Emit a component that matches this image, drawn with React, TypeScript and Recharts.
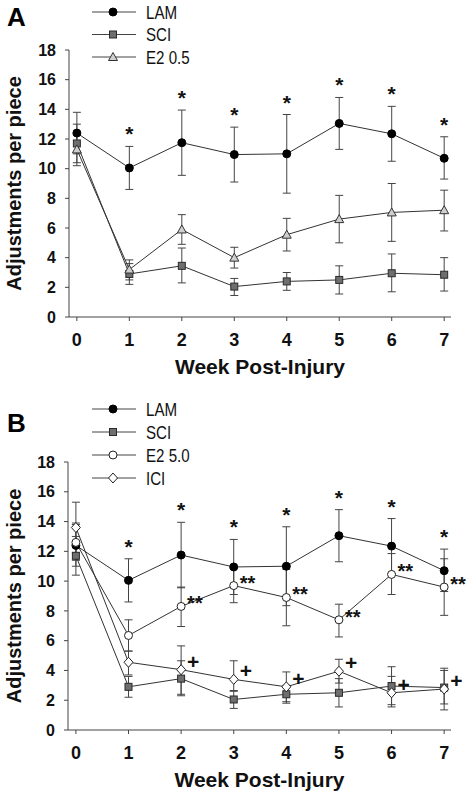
import React from 'react';
import { LineChart, Line, XAxis, YAxis, ErrorBar, LabelList } from 'recharts';

const weeks = [0, 1, 2, 3, 4, 5, 6, 7];
const yTicks = [0, 2, 4, 6, 8, 10, 12, 14, 16, 18];

// LAM (same in both panels)
const lamMean = [12.4, 10.05, 11.75, 10.95, 11.0, 13.05, 12.35, 10.7];
const lamHi = [13.8, 11.5, 13.95, 12.8, 13.65, 14.8, 14.2, 12.15];
const lamLo = [11.0, 8.6, 9.55, 9.1, 8.35, 11.3, 10.5, 9.3];
const lamSig = ['', '*', '*', '*', '*', '*', '*', '*'];

// SCI
const sciMean = [11.7, 2.9, 3.45, 2.05, 2.4, 2.5, 2.95, 2.85];
const sciHi = [13.0, 3.6, 4.65, 2.6, 3.0, 3.45, 4.25, 4.0];
const sciLo = [10.4, 2.2, 2.3, 1.45, 1.8, 1.55, 1.7, 1.75];

// E2 0.5 (panel A)
const e2LowMean = [11.3, 3.2, 5.9, 4.0, 5.55, 6.6, 7.05, 7.2];
const e2LowHi = [12.3, 3.85, 6.9, 4.7, 6.65, 8.2, 9.0, 8.55];
const e2LowLo = [10.2, 2.5, 4.9, 3.3, 4.45, 5.0, 5.1, 5.8];

// E2 5.0 (panel B)
const e2HighMean = [12.6, 6.35, 8.3, 9.7, 8.9, 7.4, 10.45, 9.6];
const e2HighHi = [13.9, 7.4, 9.6, 10.85, 10.8, 8.45, 11.85, 11.5];
const e2HighLo = [11.4, 5.3, 6.95, 8.55, 7.0, 6.25, 9.1, 7.7];
const e2HighSig = ['', '', '**', '**', '**', '**', '**', '**'];

// ICI (panel B)
const iciMean = [13.6, 4.55, 4.05, 3.4, 2.9, 3.95, 2.5, 2.75];
const iciHi = [15.3, 5.3, 5.65, 4.65, 3.9, 4.75, 3.6, 4.15];
const iciLo = [11.9, 3.7, 2.4, 2.65, 1.9, 3.15, 1.55, 1.35];
const iciSig = ['', '', '+', '+', '+', '+', '+', '+'];

const FONT = '"Liberation Sans", Arial, Helvetica, sans-serif';
const LINE = '#333';

type Shape = 'dot' | 'square' | 'triangle' | 'ring' | 'diamond';

interface Series {
  key: string;
  name: string;
  shape: Shape;
  mean: number[];
  hi: number[];
  lo: number[];
  sig?: string[];
}

const seriesA: Series[] = [
  { key: 'lam', name: 'LAM', shape: 'dot', mean: lamMean, hi: lamHi, lo: lamLo, sig: lamSig },
  { key: 'sci', name: 'SCI', shape: 'square', mean: sciMean, hi: sciHi, lo: sciLo },
  { key: 'e2', name: 'E2 0.5', shape: 'triangle', mean: e2LowMean, hi: e2LowHi, lo: e2LowLo },
];

const seriesB: Series[] = [
  { key: 'lam', name: 'LAM', shape: 'dot', mean: lamMean, hi: lamHi, lo: lamLo, sig: lamSig },
  { key: 'sci', name: 'SCI', shape: 'square', mean: sciMean, hi: sciHi, lo: sciLo },
  { key: 'e2', name: 'E2 5.0', shape: 'ring', mean: e2HighMean, hi: e2HighHi, lo: e2HighLo, sig: e2HighSig },
  { key: 'ici', name: 'ICI', shape: 'diamond', mean: iciMean, hi: iciHi, lo: iciLo, sig: iciSig },
];

const buildRows = (series: Series[]) =>
  weeks.map((w, i) => {
    const row: any = { week: w };
    series.forEach((s) => {
      row[s.key] = s.mean[i];
      row[s.key + 'Err'] = [s.mean[i] - s.lo[i], s.hi[i] - s.mean[i]];
      row[s.key + 'Hi'] = s.hi[i];
      if (s.sig) row[s.key + 'Sig'] = s.sig[i];
    });
    return row;
  });

// marker glyphs, used by the plot and the legend
const Marker = ({ shape, cx, cy }: { shape: Shape; cx: number; cy: number }) => {
  switch (shape) {
    case 'dot':
      return <circle cx={cx} cy={cy} r={4} fill="#000" stroke="#000" />;
    case 'square':
      return <rect x={cx - 3.5} y={cy - 3.5} width={7} height={7} fill="#6e6e6e" stroke="#2a2a2a" />;
    case 'triangle':
      return (
        <polygon
          points={`${cx},${cy - 4.5} ${cx + 4.5},${cy + 3.5} ${cx - 4.5},${cy + 3.5}`}
          fill="#cfcfcf"
          stroke="#333"
        />
      );
    case 'ring':
      return <circle cx={cx} cy={cy} r={4} fill="#fff" stroke="#222" />;
    case 'diamond':
      return (
        <polygon
          points={`${cx},${cy - 5} ${cx + 4.5},${cy} ${cx},${cy + 5} ${cx - 4.5},${cy}`}
          fill="#fff"
          stroke="#222"
        />
      );
  }
  return null;
};

const makeDot = (shape: Shape) => (p: any) => (
  <Marker key={`m-${shape}-${p.index}`} shape={shape} cx={p.cx} cy={p.cy} />
);

// star above the upper error bar
const renderStar = (p: any) => {
  if (!p.value) return null;
  return (
    <text key={`s-${p.index}`} x={p.x} y={p.y - 5} textAnchor="middle" fontSize={21} fontWeight="bold" fill="#111">
      {p.value}
    </text>
  );
};

// ** / + placed beside the marker
const renderSide = (p: any) => {
  if (!p.value) return null;
  const plus = p.value === '+';
  return (
    <text
      key={`d-${p.index}`}
      x={p.x + 6}
      y={plus ? p.y - 1 : p.y + 4}
      fontSize={plus ? 21 : 20}
      fontWeight="bold"
      fill="#111"
    >
      {p.value}
    </text>
  );
};

interface PanelProps {
  letter: string;
  series: Series[];
  height: number;
  marginTop: number;
  yWidth: number;
  xHeight: number;
  titleOffset: number;
  legendY: number[];
  letterY: number;
}

const Panel = ({ letter, series, height, marginTop, yWidth, xHeight, titleOffset, legendY, letterY }: PanelProps) => {
  const rows = buildRows(series);
  return (
    <div style={{ position: 'relative', width: 469, height }}>
      <LineChart width={469} height={height} data={rows} margin={{ top: marginTop, right: 18, left: 0, bottom: 0 }}>
        <XAxis
          dataKey="week"
          type="number"
          domain={[-0.15, 7.13]}
          ticks={weeks}
          height={xHeight}
          tickSize={4}
          tickMargin={12}
          axisLine={{ stroke: '#444' }}
          tickLine={{ stroke: '#444' }}
          tick={{ fontSize: 18, fontWeight: 'bold', fill: '#111' }}
          label={{
            value: 'Week Post-Injury',
            position: 'insideBottom',
            offset: titleOffset,
            style: { fontSize: 21, fontWeight: 'bold', fill: '#111' },
          }}
        />
        <YAxis
          type="number"
          domain={[0, 18]}
          ticks={yTicks}
          width={yWidth}
          tickSize={4}
          tickMargin={9}
          axisLine={{ stroke: '#444' }}
          tickLine={{ stroke: '#444' }}
          tick={{ fontSize: 16, fontWeight: 'bold', fill: '#111' }}
          label={{
            value: 'Adjustments per piece',
            angle: -90,
            position: 'insideLeft',
            offset: 14,
            style: { fontSize: 20, fontWeight: 'bold', fill: '#111', textAnchor: 'middle' },
          }}
        />
        {series.map((s) => (
          <Line
            key={s.key}
            dataKey={s.key}
            type="linear"
            stroke={LINE}
            strokeWidth={1}
            dot={makeDot(s.shape)}
            activeDot={false}
            isAnimationActive={false}
          >
            <ErrorBar dataKey={s.key + 'Err'} width={4} stroke="#444" strokeWidth={1} direction="y" />
            {s.sig && s.key !== 'lam' && <LabelList dataKey={s.key + 'Sig'} content={renderSide} />}
          </Line>
        ))}
        <Line
          dataKey="lamHi"
          stroke="none"
          dot={false}
          activeDot={false}
          isAnimationActive={false}
        >
          <LabelList dataKey="lamSig" content={renderStar} />
        </Line>
      </LineChart>
      <svg
        width={469}
        height={100}
        style={{ position: 'absolute', left: 0, top: 0, pointerEvents: 'none', fontFamily: FONT }}
      >
        <text x={7} y={letterY} fontSize={26} fontWeight="bold" fill="#000">
          {letter}
        </text>
        {series.map((s, i) => (
          <g key={s.key}>
            <line x1={92} x2={136} y1={legendY[i]} y2={legendY[i]} stroke="#444" />
            <Marker shape={s.shape} cx={113} cy={legendY[i]} />
            {/* the legend face is a condensed sans, so squeeze it horizontally */}
            <g transform={`translate(146, ${legendY[i] + 6.5}) scale(0.84, 1)`}>
              <text x={0} y={0} fontSize={18} fill="#111">
                {s.name}
              </text>
            </g>
          </g>
        ))}
      </svg>
    </div>
  );
};

export default function App() {
  return (
    <div style={{ position: 'absolute', left: 0, top: 0, width: 469, height: 794, background: '#fff', fontFamily: FONT }}>
      <Panel
        letter="A"
        series={seriesA}
        height={390}
        marginTop={50}
        yWidth={69}
        xHeight={73}
        titleOffset={16}
        legendY={[12, 34.5, 57]}
        letterY={26}
      />
      <Panel
        letter="B"
        series={seriesB}
        height={404}
        marginTop={72}
        yWidth={68}
        xHeight={64}
        titleOffset={7}
        legendY={[19, 42, 65, 88]}
        letterY={42}
      />
    </div>
  );
}
